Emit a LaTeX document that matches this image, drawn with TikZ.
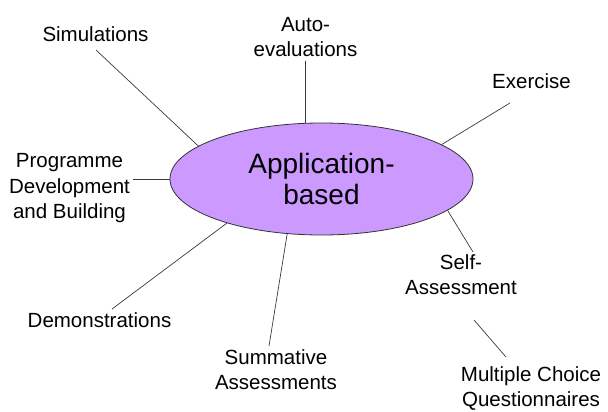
\documentclass[tikz,border=0pt]{standalone}
\usepackage{fontspec}
\setmainfont{Liberation Sans}
\usepackage{xcolor}
\usetikzlibrary{shapes.geometric}
\definecolor{lilac}{HTML}{CC99FF}
\definecolor{wire}{HTML}{3A3A3A}
\tikzset{
  line/.style={draw=wire, line width=0.7pt},
  hub/.style={ellipse, draw=black!80, line width=0.8pt, fill=lilac, minimum width=303pt, minimum height=112pt, inner sep=0pt, align=center, font=\fontsize{28}{31}\selectfont},
  lbl/.style={align=center, inner sep=0pt, font=\fontsize{20.5}{25.5}\selectfont}
}
\begin{document}
\begin{tikzpicture}[x=1pt,y=-1pt]
  \useasboundingbox (0,0) rectangle (608,412);

  \node[hub] (app) at (321.5,179) {Application-\\based};

  \node[lbl] (sim) at (95.5,34.5) {Simulations};
  \node[lbl] (auto) at (305.5,37.2) {Auto-\\evaluations};
  \node[lbl] (ex) at (531.5,81.6) {Exercise};
  \node[lbl] (prog) at (69.5,188.3) {Programme\\Development\\and Building};
  \node[lbl] (self) at (461,274.5) {Self-\\Assessment};
  \node[lbl] (demo) at (99.5,320.5) {Demonstrations};
  \node[lbl] (summ) at (276,369.5) {Summative\\Assessments};
  \node[lbl] (mcq) at (531,388.5) {Multiple Choice\\Questionnaires};

  \coordinate (S) at (96,50);
  \coordinate (A) at (305.5,61);
  \coordinate (E) at (510,103);
  \coordinate (P) at (133,179);
  \coordinate (D) at (112,309);
  \coordinate (U) at (269,346);
  \coordinate (F) at (473,252);
  \coordinate (M1) at (474,320);
  \coordinate (M2) at (506,357);

  \draw[line] (S) -- (app.165);
  \draw[line] (A) -- (app.106);
  \draw[line] (E) -- (app.16);
  \draw[line] (P) -- (app.180);
  \draw[line] (D) -- (app.205.7);
  \draw[line] (U) -- (app.238.5);
  \draw[line] (F) -- (app.346.3);
  \draw[line] (M1) -- (M2);
\end{tikzpicture}
\end{document}
